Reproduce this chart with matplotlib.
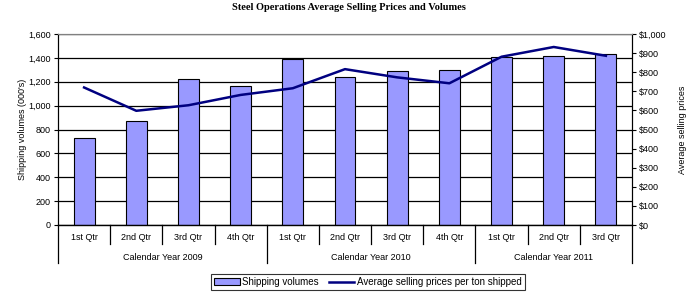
"""Steel operations: quarterly shipping volumes (bars) and average selling price (line)."""

import matplotlib
matplotlib.use("Agg")
import matplotlib.pyplot as plt
from matplotlib.lines import Line2D
from matplotlib.patches import Patch
from matplotlib.ticker import FuncFormatter

# --- data ------------------------------------------------------------------
QUARTERS = ["1st Qtr", "2nd Qtr", "3rd Qtr", "4th Qtr",
            "1st Qtr", "2nd Qtr", "3rd Qtr", "4th Qtr",
            "1st Qtr", "2nd Qtr", "3rd Qtr"]
YEARS = ["Calendar Year 2009", "Calendar Year 2010", "Calendar Year 2011"]
YEAR_SPANS = [(0, 4), (4, 8), (8, 11)]   # quarter index ranges per year

volumes = [730, 870, 1220, 1165, 1390, 1240, 1290, 1300, 1410, 1415, 1432]
prices = [720, 598, 627, 681, 716, 816, 773, 742, 881, 932, 886]

BAR_COLOR = "#9999FF"
LINE_COLOR = "#000080"
FONT = "Liberation Sans"

plt.rcParams["font.family"] = [FONT, "DejaVu Sans"]

fig = plt.figure(figsize=(6.95, 2.97), dpi=100)
ax = fig.add_axes([58 / 695, 1 - 225 / 297, 574 / 695, 191 / 297])
ax2 = ax.twinx()

x = list(range(len(QUARTERS)))
ax.bar(x, volumes, width=0.4, color=BAR_COLOR, edgecolor="black",
       linewidth=0.8, zorder=3)
ax2.plot(x, prices, color=LINE_COLOR, linewidth=1.8, zorder=4)

ax.set_xlim(-0.5, len(QUARTERS) - 0.5)
ax.set_ylim(0, 1600)
ax.set_yticks(range(0, 1601, 200))
ax.yaxis.set_major_formatter(FuncFormatter(lambda v, _: f"{int(v):,}"))
ax2.set_ylim(0, 1000)
ax2.set_yticks(range(0, 1001, 100))
ax2.yaxis.set_major_formatter(FuncFormatter(lambda v, _: f"${int(v):,}"))

# black gridlines, grey top border
ax.grid(axis="y", color="black", linewidth=0.9, zorder=0)
ax.set_axisbelow(True)
for a in (ax, ax2):
    a.spines["top"].set_color("#808080")
    a.spines["bottom"].set_visible(False)
    a.spines["left"].set_color("black")
    a.spines["right"].set_color("black")
    a.tick_params(axis="y", labelsize=6.5, length=3, width=0.8, pad=2)
ax.plot([0, 1], [0, 0], transform=ax.transAxes, color="black",
        linewidth=1.0, clip_on=False, zorder=5)
ax.set_xticks([])

ax.set_ylabel("Shipping volumes (000's)", fontsize=6.5, labelpad=1)
ax2.set_ylabel("Average selling prices", fontsize=6.5, labelpad=8)

# two-level category axis
trans = ax.get_xaxis_transform()
n = len(QUARTERS)
year_edges = {s for s, _ in YEAR_SPANS} | {e for _, e in YEAR_SPANS}
for i in range(n + 1):
    bottom = -0.199 if i in year_edges else -0.0995
    ax.plot([i - 0.5, i - 0.5], [0, bottom], transform=trans, color="black",
            linewidth=0.9, clip_on=False)
for i, q in enumerate(QUARTERS):
    ax.text(i, -0.068, q, transform=trans, ha="center", va="center",
            fontsize=6.5)
for (s, e), yr in zip(YEAR_SPANS, YEARS):
    ax.text((s + e - 1) / 2, -0.168, yr, transform=trans, ha="center",
            va="center", fontsize=6.5)

fig.text(349 / 695, 1 - 7 / 297, "Steel Operations Average Selling Prices and Volumes",
         ha="center", va="center", fontsize=7.5, fontweight="bold",
         family="Liberation Serif")

handles = [Patch(facecolor=BAR_COLOR, edgecolor="black", linewidth=0.8),
           Line2D([0], [0], color=LINE_COLOR, linewidth=1.8)]
leg = fig.legend(handles, ["Shipping volumes",
                           "Average selling prices per ton shipped"],
                 loc="center", bbox_to_anchor=(368 / 695, 1 - 282 / 297),
                 ncol=2, fontsize=7, frameon=True, fancybox=False,
                 borderpad=0.35, handlelength=2.6, handletextpad=0.3,
                 columnspacing=1.0)
leg.get_frame().set_edgecolor("black")
leg.get_frame().set_linewidth(0.8)

fig.savefig("out.png", dpi=100)
